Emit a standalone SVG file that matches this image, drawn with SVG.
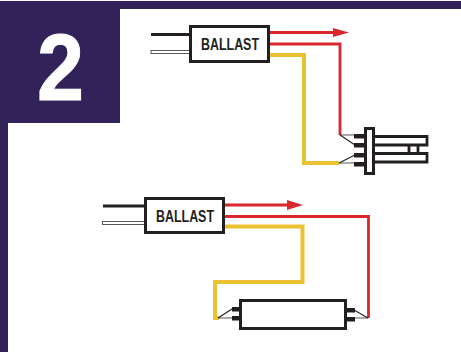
<svg xmlns="http://www.w3.org/2000/svg" width="461" height="352" viewBox="0 0 461 352">
<style>
.box{fill:#fff;stroke:#231f20;stroke-width:3}
.lbl{font-family:"Liberation Sans",Arial,sans-serif;font-weight:700;font-size:16.5px;fill:#231f20;text-anchor:middle}
.red{fill:none;stroke:#d9272e;stroke-width:2.8}
.yel{fill:none;stroke:#ecc132;stroke-width:4}
.blk{fill:none;stroke:#231f20;stroke-width:2.8}
.thin{fill:none;stroke:#231f20;stroke-width:1.1}
.gry{fill:none;stroke:#58595b;stroke-width:1.2}
.wht{fill:#fff;stroke:#58595b;stroke-width:1}
.pin{fill:#231f20}
.arr{fill:#d9272e}
</style>
<rect width="461" height="352" fill="#fff"/>
<g id="frame">
<path d="M0 1H461V9H120V123H8V352H0Z" fill="#32225a"/>
<text x="60.500" y="100" font-family="Liberation Sans,Arial,sans-serif" font-weight="700" font-size="95" fill="#fff" stroke="#fff" stroke-width="1" text-anchor="middle" textLength="47" lengthAdjust="spacingAndGlyphs">2</text>
</g>
<g id="connectors">
<path class="blk" d="M151 34.500H190"/>
<rect class="wht" x="151" y="50.500" width="39" height="3"/>
<path class="red" d="M268 32.500H336"/>
<path class="arr" d="M333 28L349 32.500L333 37Z"/>
<path class="red" d="M268 44H340V135"/>
<path class="yel" d="M268 55H304V163H339"/>
<path class="blk" d="M103 206H145"/>
<rect class="wht" x="102.500" y="221.500" width="42.500" height="3"/>
<path class="red" d="M224 205H290"/>
<path class="arr" d="M287 200L303 205L287 210Z"/>
<path class="red" d="M224 216.500H368.500V318"/>
<path class="yel" d="M224 226.500H302.500V282H215V318H219"/>
</g>
<g id="ballast-1">
<rect class="box" x="190.500" y="26.500" width="78" height="35"/>
<text class="lbl" x="230" y="50" textLength="58" lengthAdjust="spacingAndGlyphs">BALLAST</text>
</g>
<g id="ballast-2">
<rect class="box" x="145.500" y="198.500" width="78" height="34"/>
<text class="lbl" x="185" y="222" textLength="58" lengthAdjust="spacingAndGlyphs">BALLAST</text>
</g>
<g id="lamp-1">
<path class="gry" d="M340 135H355M339 163H355"/>
<path class="thin" d="M340 135L355 145M339 163L355 155"/>
<rect class="pin" x="354" y="134" width="11" height="4.500"/>
<rect class="pin" x="354" y="143" width="11" height="4.500"/>
<rect class="pin" x="354" y="153" width="11" height="4.500"/>
<rect class="pin" x="354" y="162" width="11" height="4.500"/>
<path class="blk" d="M374 136.500H427V145H374M374 153.500H427V162H374M409 145V153.500M418 145V153.500"/>
<rect class="box" x="365.500" y="128.500" width="8" height="45"/>
</g>
<g id="lamp-2">
<path class="gry" d="M218 318H232M368 318H354"/>
<path class="thin" d="M218 318L232 309M368 318L354 310"/>
<rect class="pin" x="232" y="307" width="9" height="4.500"/>
<rect class="pin" x="232" y="316" width="9" height="4.500"/>
<rect class="pin" x="345" y="308" width="10" height="4.500"/>
<rect class="pin" x="345" y="317" width="10" height="4.500"/>
<rect class="box" x="240.500" y="300.500" width="105" height="28"/>
</g>
</svg>
